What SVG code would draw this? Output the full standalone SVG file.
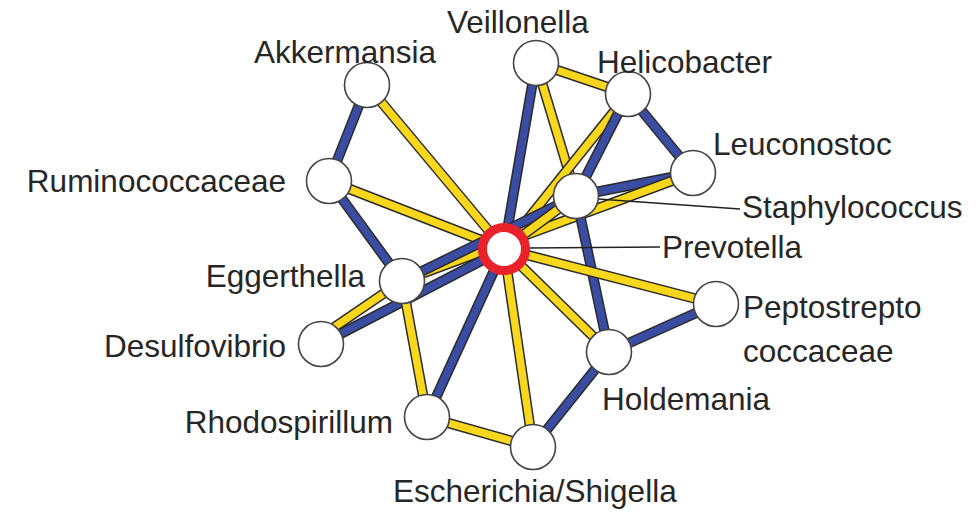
<svg xmlns="http://www.w3.org/2000/svg" width="980" height="512" viewBox="0 0 980 512">
<style>
.o{stroke:#2b2b2b;stroke-width:10.5;fill:none}
.b{stroke:#3b4da3;stroke-width:7.5;fill:none}
.y{stroke:#f9d71c;stroke-width:7.5;fill:none}
.n{fill:#fff;stroke:#444;stroke-width:1.6}
.c{fill:#fff;stroke:#e8212b;stroke-width:9}
.ld{stroke:#222;stroke-width:1.6;fill:none}
text{font-family:"Liberation Sans",Arial,sans-serif;font-size:31.5px;fill:#262626}
.r{text-anchor:end}
</style>
<rect width="980" height="512" fill="#fff"/>
<g id="connectors">
<line class="o" x1="367" y1="85" x2="329" y2="181"/><line class="b" x1="367" y1="85" x2="329" y2="181"/>
<line class="o" x1="367" y1="85" x2="504" y2="249"/><line class="y" x1="367" y1="85" x2="504" y2="249"/>
<line class="o" x1="329" y1="181" x2="504" y2="249"/><line class="y" x1="329" y1="181" x2="504" y2="249"/>
<line class="o" x1="329" y1="181" x2="402" y2="281"/><line class="b" x1="329" y1="181" x2="402" y2="281"/>
<line class="o" x1="536" y1="63" x2="504" y2="249"/><line class="b" x1="536" y1="63" x2="504" y2="249"/>
<line class="o" x1="536" y1="63" x2="628" y2="94"/><line class="y" x1="536" y1="63" x2="628" y2="94"/>
<line class="o" x1="536" y1="63" x2="576" y2="196"/><line class="y" x1="536" y1="63" x2="576" y2="196"/>
<line class="o" x1="628" y1="94" x2="504" y2="249"/><line class="y" x1="628" y1="94" x2="504" y2="249"/>
<line class="o" x1="628" y1="94" x2="576" y2="196"/><line class="b" x1="628" y1="94" x2="576" y2="196"/>
<line class="o" x1="628" y1="94" x2="693" y2="173"/><line class="b" x1="628" y1="94" x2="693" y2="173"/>
<line class="o" x1="693" y1="173" x2="576" y2="196"/><line class="b" x1="693" y1="173" x2="576" y2="196"/>
<line class="o" x1="402" y1="281" x2="693" y2="173"/><line class="y" x1="402" y1="281" x2="693" y2="173"/>
<line class="o" x1="402" y1="281" x2="576" y2="196"/><line class="b" x1="402" y1="281" x2="576" y2="196"/>
<line class="o" x1="504" y1="249" x2="576" y2="196"/><line class="y" x1="504" y1="249" x2="576" y2="196"/>
<line class="o" x1="576" y1="196" x2="609" y2="352"/><line class="b" x1="576" y1="196" x2="609" y2="352"/>
<line class="o" x1="317" y1="339" x2="402" y2="281"/><line class="y" x1="317" y1="339" x2="402" y2="281"/>
<line class="o" x1="321" y1="344" x2="504" y2="249"/><line class="b" x1="321" y1="344" x2="504" y2="249"/>
<line class="o" x1="402" y1="281" x2="427" y2="417"/><line class="y" x1="402" y1="281" x2="427" y2="417"/>
<line class="o" x1="504" y1="249" x2="427" y2="417"/><line class="b" x1="504" y1="249" x2="427" y2="417"/>
<line class="o" x1="504" y1="249" x2="533" y2="447"/><line class="y" x1="504" y1="249" x2="533" y2="447"/>
<line class="o" x1="504" y1="249" x2="609" y2="352"/><line class="y" x1="504" y1="249" x2="609" y2="352"/>
<line class="o" x1="504" y1="249" x2="716" y2="304"/><line class="y" x1="504" y1="249" x2="716" y2="304"/>
<line class="o" x1="716" y1="304" x2="609" y2="352"/><line class="b" x1="716" y1="304" x2="609" y2="352"/>
<line class="o" x1="609" y1="352" x2="533" y2="447"/><line class="b" x1="609" y1="352" x2="533" y2="447"/>
<line class="o" x1="533" y1="447" x2="427" y2="417"/><line class="y" x1="533" y1="447" x2="427" y2="417"/>
<line class="ld" x1="598" y1="199" x2="740" y2="209"/>
<line class="ld" x1="528" y1="248" x2="660" y2="247"/>
</g>
<g id="akkermansia"><circle class="n" cx="367" cy="85" r="22.5"/><text x="254" y="63">Akkermansia</text></g>
<g id="veillonella"><circle class="n" cx="536" cy="63" r="22.5"/><text x="447" y="33">Veillonella</text></g>
<g id="helicobacter"><circle class="n" cx="628" cy="94" r="22.5"/><text x="597" y="73">Helicobacter</text></g>
<g id="leuconostoc"><circle class="n" cx="693" cy="173" r="22.5"/><text x="713" y="155">Leuconostoc</text></g>
<g id="staphylococcus"><circle class="n" cx="576" cy="196" r="22.5"/><text x="742" y="218">Staphylococcus</text></g>
<g id="ruminococcaceae"><circle class="n" cx="329" cy="181" r="22.5"/><text class="r" x="286" y="192">Ruminococcaceae</text></g>
<g id="eggerthella"><circle class="n" cx="402" cy="281" r="22.5"/><text class="r" x="365" y="287">Eggerthella</text></g>
<g id="desulfovibrio"><circle class="n" cx="321" cy="344" r="22.5"/><text class="r" x="286" y="357">Desulfovibrio</text></g>
<g id="peptostreptococcaceae"><circle class="n" cx="716" cy="304" r="22.5"/><text x="743" y="318">Peptostrepto</text><text x="743" y="362">coccaceae</text></g>
<g id="holdemania"><circle class="n" cx="609" cy="352" r="22.5"/><text x="602" y="410">Holdemania</text></g>
<g id="rhodospirillum"><circle class="n" cx="427" cy="417" r="22.5"/><text class="r" x="393" y="433">Rhodospirillum</text></g>
<g id="escherichia"><circle class="n" cx="533" cy="447" r="22.5"/><text x="393" y="502">Escherichia/Shigella</text></g>
<g id="prevotella"><circle class="c" cx="504" cy="249" r="21.5"/><text x="662" y="258">Prevotella</text></g>
</svg>
